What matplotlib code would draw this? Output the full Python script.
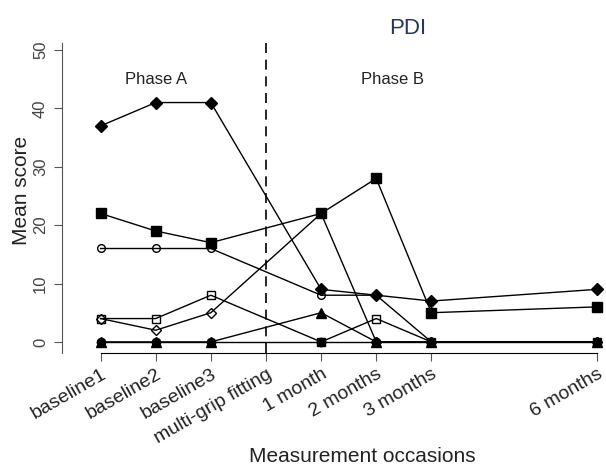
import numpy as np
import matplotlib.pyplot as plt

plt.rcParams['font.family'] = ['Liberation Sans', 'DejaVu Sans']

occasions = ["baseline1", "baseline2", "baseline3", "multi-grip fitting",
             "1 month", "2 months", "3 months", "6 months"]
occasion_pos = [0, 1, 2, 3, 4, 5, 6, 9]
# no measurement at the fitting session
measured_pos = [0, 1, 2, 4, 5, 6, 9]

filled_diamond = [37, 41, 41, 9, 8, 7, 9]
filled_square = [22, 19, 17, 22, 28, 5, 6]
open_circle = [16, 16, 16, 8, 8, 0, 0]
open_diamond = [4, 2, 5, 22, 0, 0, 0]
open_square = [4, 4, 8, 0, 4, 0, 0]
filled_triangle = [0, 0, 0, 5, 0, 0, 0]
filled_circle = [0, 0, 0, 0, 0, 0, 0]

txt = '#222222'

fig = plt.figure(figsize=(6.06, 4.66), dpi=100)
ax = fig.add_axes([62/606, (466-353)/466, 543/606, 310/466])

lk = dict(color='black', lw=1.0, mec='black', mew=1.0)
ax.plot(measured_pos, filled_circle, marker='o', ms=6, mfc='black', **lk)
ax.plot(measured_pos, filled_triangle, marker='^', ms=6.5, mfc='black', **lk)
ax.plot(measured_pos, open_square, marker='s', ms=5.5, mfc='none', **lk)
ax.plot(measured_pos, open_diamond, marker='D', ms=5, mfc='none', **lk)
ax.plot(measured_pos, open_circle, marker='o', ms=5.5, mfc='none', **lk)
ax.plot(measured_pos, filled_square, marker='s', ms=6.5, mfc='black', **lk)
ax.plot(measured_pos, filled_diamond, marker='D', ms=6.5, mfc='black', **lk)

ax.axvline(3, color='black', lw=1.2, ls=(0, (6, 4)))

ax.text(1, 45, "Phase A", ha='center', va='center', fontsize=12, color=txt)
ax.text(5.3, 45, "Phase B", ha='center', va='center', fontsize=12, color=txt)

ax.set_xlim(-0.7, 9.15)
ax.set_ylim(-1.9, 51.2)

ax.set_xticks(occasion_pos)
ax.set_xticklabels(occasions, rotation=30, ha='right', rotation_mode='anchor',
                   fontsize=14, color=txt)
ax.set_yticks(np.arange(0, 51, 10))
ax.set_yticklabels([str(v) for v in range(0, 51, 10)], rotation=90, va='center',
                   fontsize=12, color='#444444')

for s in ['top', 'right']:
    ax.spines[s].set_visible(False)
ax.spines['left'].set_color('#555555')
ax.spines['bottom'].set_bounds(0, 9)
ax.tick_params(axis='x', length=6, color='#555555', pad=3)
ax.tick_params(axis='y', length=6, color='#555555', pad=4)

fig.text(22/606, 1 - 190/466, "Mean score", rotation=90, ha='center', va='center',
         fontsize=15, color=txt)
fig.text(362/606, 1 - 457/466, "Measurement occasions", ha='center', va='center',
         fontsize=15, color=txt)
fig.text(408/606, 1 - 28/466, "PDI", ha='center', va='center', fontsize=16,
         color='#1f3864')

fig.savefig("out.png", dpi=100)
